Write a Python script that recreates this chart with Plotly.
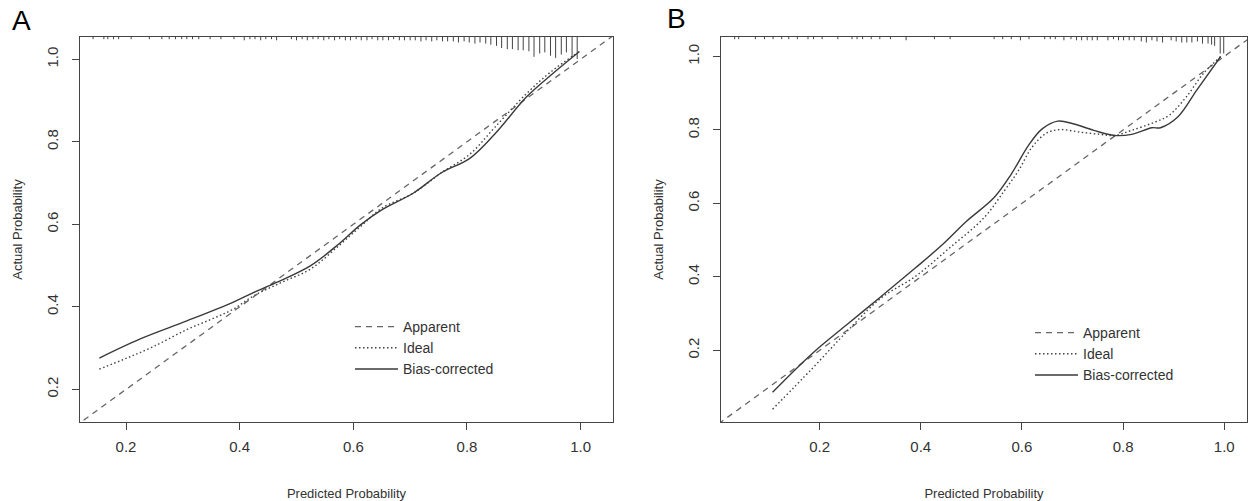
import plotly.graph_objects as go

# ---------------- data ----------------
# Panel A calibration curves
a_ideal_x = [0.153, 0.200, 0.250, 0.307, 0.350, 0.388, 0.425, 0.475, 0.525, 0.575, 0.612, 0.650, 0.706, 0.755, 0.805, 0.849, 0.905, 0.948, 0.998]
a_ideal_y = [0.249, 0.275, 0.305, 0.345, 0.370, 0.394, 0.427, 0.460, 0.492, 0.549, 0.594, 0.639, 0.676, 0.725, 0.770, 0.835, 0.917, 0.970, 1.019]
a_bias_x = [0.153, 0.226, 0.307, 0.388, 0.425, 0.463, 0.525, 0.575, 0.612, 0.650, 0.706, 0.755, 0.805, 0.849, 0.905, 0.948, 0.998]
a_bias_y = [0.276, 0.323, 0.366, 0.411, 0.435, 0.458, 0.500, 0.553, 0.598, 0.635, 0.676, 0.725, 0.760, 0.819, 0.909, 0.962, 1.019]

# Panel B calibration curves
b_ideal_x = [0.107, 0.185, 0.253, 0.321, 0.389, 0.457, 0.525, 0.565, 0.593, 0.620, 0.647, 0.674, 0.715, 0.755, 0.783, 0.817, 0.864, 0.891, 0.925, 0.959, 0.993]
b_ideal_y = [0.040, 0.150, 0.250, 0.342, 0.401, 0.479, 0.561, 0.634, 0.689, 0.753, 0.790, 0.801, 0.794, 0.788, 0.785, 0.799, 0.822, 0.840, 0.890, 0.954, 1.000]
b_bias_x = [0.107, 0.185, 0.253, 0.321, 0.389, 0.443, 0.491, 0.545, 0.579, 0.613, 0.640, 0.671, 0.701, 0.742, 0.783, 0.817, 0.857, 0.874, 0.908, 0.946, 0.993]
b_bias_y = [0.086, 0.191, 0.269, 0.346, 0.424, 0.488, 0.552, 0.616, 0.680, 0.758, 0.803, 0.824, 0.817, 0.799, 0.785, 0.788, 0.806, 0.806, 0.835, 0.909, 1.000]

# Reference (diagonal) line
diag = [0.0, 1.1]

# Rug (distribution of predicted values) - positions and relative frequency
a_rug_x = [0.142, 0.161, 0.168, 0.178, 0.187, 0.209, 0.241, 0.263, 0.276, 0.287, 0.298, 0.307, 0.317, 0.328, 0.348, 0.367, 0.390, 0.408, 0.418, 0.427, 0.437, 0.446, 0.456, 0.465,
           0.491, 0.500, 0.510, 0.519, 0.529, 0.538, 0.548, 0.557, 0.567, 0.576, 0.586, 0.595, 0.605, 0.614, 0.624, 0.633, 0.643, 0.652, 0.662, 0.671, 0.681, 0.690, 0.700,
           0.709, 0.719, 0.728, 0.738, 0.747, 0.757, 0.766, 0.776, 0.785, 0.795, 0.804, 0.814, 0.823, 0.833, 0.842,
           0.852, 0.861, 0.871, 0.880, 0.890, 0.899, 0.909, 0.918, 0.928, 0.937, 0.947, 0.956, 0.966, 0.975, 0.985, 0.994]
a_rug_f = [2, 2, 2, 2, 2, 2, 2, 2, 2, 2, 2, 2, 2, 2, 2, 2, 2, 3, 2, 2, 3, 2, 2, 3,
           2, 3, 2, 3, 2, 2, 3, 2, 3, 2, 3, 3, 2, 3, 3, 2, 3, 3, 3, 2, 3, 3, 3,
           3, 4, 3, 4, 3, 4, 4, 4, 5, 4, 5, 6, 5, 6, 7,
           8, 10, 11, 11, 12, 12, 13, 18, 15, 14, 17, 19, 16, 14, 18, 20]

b_rug_x = [0.032, 0.040, 0.073, 0.091, 0.108, 0.125, 0.139, 0.156, 0.177, 0.188,
           0.205, 0.236, 0.264, 0.274, 0.285, 0.302, 0.319, 0.340, 0.371, 0.427,
           0.458, 0.545, 0.562, 0.579, 0.597, 0.614, 0.645, 0.656, 0.666, 0.683,
           0.697, 0.708, 0.718, 0.729, 0.739, 0.749, 0.770, 0.781, 0.791, 0.801,
           0.812, 0.822, 0.836, 0.846, 0.857, 0.867, 0.878, 0.895, 0.905, 0.916,
           0.926, 0.936, 0.947, 0.957, 0.968, 0.975, 0.981, 0.992, 0.999]
b_rug_f = [2, 2, 2, 2, 2, 2, 2, 2, 2, 2,
           2, 2, 2, 2, 2, 2, 2, 2, 3, 2,
           2, 2, 2, 2, 3, 2, 2, 2, 2, 3,
           2, 3, 3, 3, 3, 3, 3, 2, 3, 3,
           3, 3, 4, 5, 3, 4, 5, 3, 4, 5,
           5, 5, 4, 6, 6, 7, 8, 15, 15]

x_ticks = [0.2, 0.4, 0.6, 0.8, 1.0]
y_ticks = [0.2, 0.4, 0.6, 0.8, 1.0]
tick_text = ["0.2", "0.4", "0.6", "0.8", "1.0"]

labels = ["Apparent", "Ideal", "Bias-corrected"]

# ---------------- styling ----------------
FONT = "Liberation Sans, Arial, sans-serif"
TXT = "#333333"
AX = "#444444"
a_xr = [0.119, 1.057]
a_yr = [0.121, 1.054]
b_xr = [0.005, 1.045]
b_yr = [0.005, 1.053]
RUG_PX = 1.1
px_to_y_a = RUG_PX * (a_yr[1] - a_yr[0]) / 385.0
px_to_y_b = RUG_PX * (b_yr[1] - b_yr[0]) / 385.0

DASH = "6px,5px"
DOT = "1.5px,2.5px"


def rug_segments(xs, fs, ytop, unit):
    sx, sy = [], []
    for x, f in zip(xs, fs):
        sx += [x, x, None]
        sy += [ytop, ytop - f * unit, None]
    return sx, sy


fig = go.Figure()

for xa, ya, leg, ix, iy, bx, by, rx, rf, yr, unit in [
    ("x", "y", "legend", a_ideal_x, a_ideal_y, a_bias_x, a_bias_y, a_rug_x, a_rug_f, a_yr, px_to_y_a),
    ("x2", "y2", "legend2", b_ideal_x, b_ideal_y, b_bias_x, b_bias_y, b_rug_x, b_rug_f, b_yr, px_to_y_b),
]:
    fig.add_trace(go.Scatter(x=diag, y=diag, mode="lines", name=labels[0],
                             line=dict(color="#666666", width=1.3, dash=DASH),
                             xaxis=xa, yaxis=ya, legend=leg, hoverinfo="skip"))
    fig.add_trace(go.Scatter(x=ix, y=iy, mode="lines", name=labels[1], line_shape="spline",
                             line=dict(color="#444444", width=1.4, dash=DOT),
                             xaxis=xa, yaxis=ya, legend=leg))
    fig.add_trace(go.Scatter(x=bx, y=by, mode="lines", name=labels[2], line_shape="spline",
                             line=dict(color="#3a3a3a", width=1.4),
                             xaxis=xa, yaxis=ya, legend=leg))
    sx, sy = rug_segments(rx, rf, yr[1], unit)
    fig.add_trace(go.Scatter(x=sx, y=sy, mode="lines", showlegend=False,
                             line=dict(color="#444444", width=1),
                             xaxis=xa, yaxis=ya, hoverinfo="skip"))

axis_common = dict(showgrid=False, zeroline=False, showline=True, mirror=True,
                   linecolor=AX, linewidth=1, ticks="outside", ticklen=7,
                   tickcolor=AX, tickwidth=1,
                   tickfont=dict(family=FONT, size=15, color=TXT),
                   tickvals=x_ticks, ticktext=tick_text)

W, H = 1248, 501
ytop_dom = 1 - 37 / H
ybot_dom = 1 - 422 / H

xtitle = dict(text="Predicted Probability", font=dict(size=13, color=TXT), standoff=37)
ytitle = dict(text="Actual Probability", font=dict(size=13, color=TXT), standoff=18)

legend_common = dict(xanchor="left", yanchor="top", bgcolor="rgba(0,0,0,0)",
                     font=dict(family=FONT, size=14, color=TXT),
                     itemwidth=43, tracegroupgap=0)

fig.update_layout(
    width=W, height=H,
    margin=dict(l=0, r=0, t=0, b=0),
    paper_bgcolor="white", plot_bgcolor="white",
    font=dict(family=FONT, color=TXT),
    xaxis=dict(axis_common, domain=[80 / W, 613 / W], range=a_xr, anchor="y",
               ticklabelstandoff=4, title=xtitle),
    yaxis=dict(axis_common, domain=[ybot_dom, ytop_dom], range=a_yr, anchor="x", tickangle=-90,
               ticklabelstandoff=8, title=ytitle),
    xaxis2=dict(axis_common, domain=[721 / W, 1247 / W], range=b_xr, anchor="y2",
                ticklabelstandoff=4, title=xtitle),
    yaxis2=dict(axis_common, domain=[ybot_dom, ytop_dom], range=b_yr, anchor="x2", tickangle=-90,
                ticklabelstandoff=8, title=ytitle),
    legend=dict(legend_common, x=350 / W, y=1 - 311 / H),
    legend2=dict(legend_common, x=1030 / W, y=1 - 317 / H),
    annotations=[
        dict(text="A", x=10 / W, y=1 - 3 / H, xref="paper", yref="paper", xanchor="left", yanchor="top",
             showarrow=False, font=dict(family=FONT, size=28, color="black")),
        dict(text="B", x=665 / W, y=1 - 1 / H, xref="paper", yref="paper", xanchor="left", yanchor="top",
             showarrow=False, font=dict(family=FONT, size=28, color="black")),
    ],
)

fig.write_html("out.html")
